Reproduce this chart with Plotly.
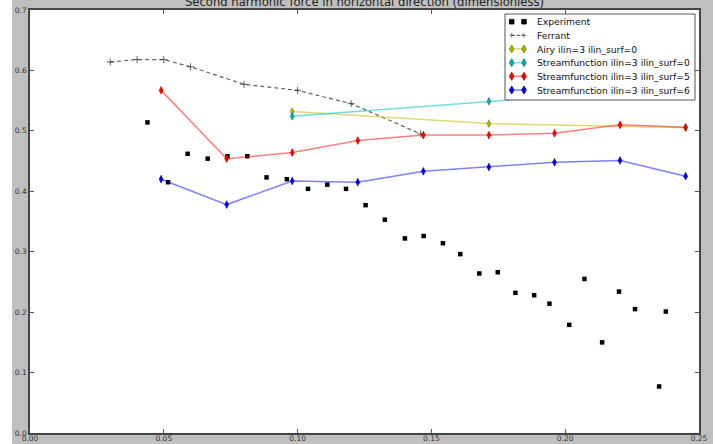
import plotly.graph_objects as go

# ---------------- data ----------------
exp_x = [0.0439, 0.0516, 0.0589, 0.0664, 0.0738, 0.0812, 0.0884, 0.0960, 0.1039, 0.1111,
         0.1181, 0.1254, 0.1326, 0.1401, 0.1471, 0.1543, 0.1608, 0.1679, 0.1748, 0.1814,
         0.1884, 0.1941, 0.2015, 0.2072, 0.2138, 0.2201, 0.2261, 0.2351, 0.2376]
exp_y = [0.514, 0.415, 0.462, 0.454, 0.458, 0.458, 0.423, 0.420, 0.404, 0.411,
         0.404, 0.377, 0.353, 0.322, 0.326, 0.314, 0.296, 0.264, 0.266, 0.232,
         0.228, 0.214, 0.179, 0.255, 0.150, 0.234, 0.205, 0.077, 0.201]

ferrant_x = [0.030, 0.040, 0.050, 0.060, 0.080, 0.100, 0.120, 0.146]
ferrant_y = [0.614, 0.618, 0.618, 0.606, 0.577, 0.567, 0.545, 0.495]

airy_x = [0.098, 0.1715, 0.245]
airy_y = [0.532, 0.512, 0.505]

sf0_x = [0.098, 0.1715, 0.245]
sf0_y = [0.524, 0.549, 0.573]

model_x = [0.049, 0.0735, 0.098, 0.1225, 0.147, 0.1715, 0.196, 0.2205, 0.245]
sf5_y = [0.567, 0.454, 0.464, 0.484, 0.493, 0.493, 0.496, 0.510, 0.506]
sf6_y = [0.420, 0.378, 0.417, 0.415, 0.433, 0.440, 0.448, 0.451, 0.425]

series_names = ["Experiment", "Ferrant", "Airy ilin=3 ilin_surf=0",
                "Streamfunction ilin=3 ilin_surf=0", "Streamfunction ilin=3 ilin_surf=5",
                "Streamfunction ilin=3 ilin_surf=6"]
title_text = "Second harmonic force in horizontal direction (dimensionless)"

x_ticks = [0.00, 0.05, 0.10, 0.15, 0.20, 0.25]
y_ticks = [0.0, 0.1, 0.2, 0.3, 0.4, 0.5, 0.6, 0.7]

# ---------------- layout helpers ----------------
W, H = 715, 444
ML, MR, MT, MB = 30, 16, 10, 11
PW, PH = W - ML - MR, H - MT - MB


def px(x):
    return (x - ML) / PW


def py(y):
    return (H - MB - y) / PH


FONT = "DejaVu Sans"

styles = [
    dict(mode="markers", marker=dict(symbol="square", size=4.5, color="black")),
    dict(mode="lines+markers", line=dict(color="rgba(60,60,60,0.8)", width=1.2, dash="4px,3px"),
         marker=dict(symbol="cross-thin", size=5, line=dict(color="rgba(60,60,60,0.8)", width=1))),
    dict(mode="lines+markers", line=dict(color="rgba(191,191,0,0.55)", width=1.5),
         marker=dict(symbol="diamond-tall", size=5.5, color="#b0b000", line=dict(color="#808000", width=0.6))),
    dict(mode="lines+markers", line=dict(color="rgba(0,191,191,0.55)", width=1.5),
         marker=dict(symbol="diamond-tall", size=5.5, color="#00b0b0", line=dict(color="#008080", width=0.6))),
    dict(mode="lines+markers", line=dict(color="rgba(255,0,0,0.5)", width=1.5),
         marker=dict(symbol="diamond-tall", size=5.5, color="#ff0000", line=dict(color="#b00000", width=0.6))),
    dict(mode="lines+markers", line=dict(color="rgba(0,0,255,0.5)", width=1.5),
         marker=dict(symbol="diamond-tall", size=5.5, color="#0000ff", line=dict(color="#0000a0", width=0.6))),
]
data = [(exp_x, exp_y), (ferrant_x, ferrant_y), (airy_x, airy_y), (sf0_x, sf0_y),
        (model_x, sf5_y), (model_x, sf6_y)]

fig = go.Figure()
for (xs, ys), name, st in zip(data, series_names, styles):
    fig.add_trace(go.Scatter(x=xs, y=ys, name=name, showlegend=False, cliponaxis=False, **st))

# ---------------- custom legend (matplotlib-like, compact) ----------------
shapes = []
annotations = []
# white strips at page edges
shapes.append(dict(type="rect", xref="paper", yref="paper", x0=px(0), x1=px(12), y0=py(H), y1=py(0),
                   fillcolor="white", line=dict(width=0), layer="above"))
shapes.append(dict(type="rect", xref="paper", yref="paper", x0=px(713), x1=px(W), y0=py(H), y1=py(0),
                   fillcolor="white", line=dict(width=0), layer="above"))
# legend box
shapes.append(dict(type="rect", xref="paper", yref="paper", x0=px(505), x1=px(695), y0=py(100), y1=py(14),
                   fillcolor="white", line=dict(color="#555555", width=1), layer="above"))

rows = [21.7, 35.3, 49.0, 62.7, 76.3, 90.0]
lx0, lx1, tx = 511.7, 524.0, 535.0
DIAMOND = "M 0 4 L 2.3 0 L 0 -4 L -2.3 0 Z"
SQUARE = "M -2.3 -2.3 L 2.3 -2.3 L 2.3 2.3 L -2.3 2.3 Z"
CROSS = "M -2.5 0 L 2.5 0 M 0 -2.5 L 0 2.5"
for i, (name, st) in enumerate(zip(series_names, styles)):
    ry = rows[i]
    if "lines" in st["mode"]:
        shapes.append(dict(type="line", xref="paper", yref="paper", x0=px(lx0), x1=px(lx1),
                           y0=py(ry), y1=py(ry),
                           line=dict(color=st["line"]["color"], width=st["line"]["width"],
                                     dash="3px,2px" if i == 1 else "solid"), layer="above"))
    for cx in (lx0, lx1):
        if i == 0:
            path, fill, lc = SQUARE, "black", "black"
        elif i == 1:
            path, fill, lc = CROSS, "rgba(0,0,0,0)", "rgba(60,60,60,0.8)"
        else:
            path, fill, lc = DIAMOND, st["marker"]["color"], st["marker"]["line"]["color"]
        shapes.append(dict(type="path", xref="paper", yref="paper", xsizemode="pixel", ysizemode="pixel",
                           xanchor=px(cx), yanchor=py(ry), path=path, fillcolor=fill,
                           line=dict(color=lc, width=0.8), layer="above"))
    annotations.append(dict(text=name, x=px(tx), y=py(ry), xref="paper", yref="paper",
                            xanchor="left", yanchor="middle", showarrow=False,
                            font=dict(family=FONT, size=9.2, color="#111111")))

annotations.append(dict(text=title_text, x=0.5, y=py(2.0), xref="paper", yref="paper",
                        xanchor="center", yanchor="middle", showarrow=False,
                        font=dict(family=FONT, size=11.6, color="#222222")))

axis_common = dict(showgrid=False, zeroline=False, showline=True, linecolor="#444444", linewidth=1.5,
                   mirror="ticks", ticks="inside", ticklen=4, tickwidth=1, tickcolor="#555555",
                   tickfont=dict(family=FONT, size=7.5, color="#333333"), automargin=False)

fig.update_layout(
    width=W, height=H,
    margin=dict(l=ML, r=MR, t=MT, b=MB, pad=0),
    paper_bgcolor="#bfbfbf", plot_bgcolor="white",
    xaxis=dict(range=[0, 0.25], tickvals=x_ticks, tickformat=".2f", ticklabelstandoff=-3, **axis_common),
    yaxis=dict(range=[0, 0.7], tickvals=y_ticks, tickformat=".1f", **axis_common),
    shapes=shapes, annotations=annotations, showlegend=False,
)

fig.write_html("out.html", config={"displayModeBar": False},
               post_script="document.body.style.margin='0';")
